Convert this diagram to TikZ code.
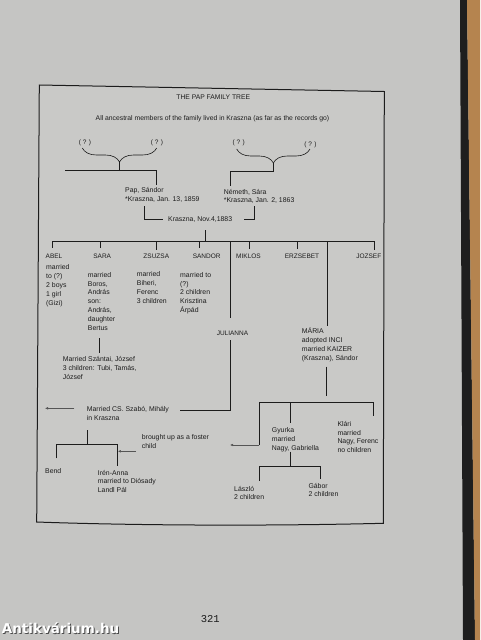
\documentclass[tikz,border=0pt]{standalone}
\usepackage{fontspec}
\setmainfont{Liberation Sans}
\newfontfamily\pagenofont{Liberation Mono}
\newfontfamily\stampfont{DejaVu Sans}
\usetikzlibrary{arrows.meta}
\usetikzlibrary{decorations.pathreplacing}
\definecolor{paper}{HTML}{C5C5C3}
\definecolor{sheet}{HTML}{C9C9C7}
\definecolor{ink}{HTML}{1C1C1C}
\definecolor{binding}{HTML}{1E1E1E}
\definecolor{cover}{HTML}{B5844F}
\begin{document}
\begin{tikzpicture}[x=1pt,y=-1pt]
        \tikzset{member/.style = {anchor=base west,inner sep=0pt,align=left,text=ink,font=\fontsize{6.9}{8.8}\selectfont}}
        \tikzset{heading/.style = {anchor=base,inner sep=0pt,text=ink,font=\fontsize{6.5}{8.8}\selectfont}}
        \tikzset{link/.style = {draw=ink,line width=1pt}}
        \tikzset{pointer/.style = {draw=ink!75,line width=0.5pt,-{Latex[length=3pt,width=2.6pt]}}}
        \tikzset{curly/.style = {draw=ink,line width=0.6pt,decorate,decoration={brace,mirror,amplitude=14pt}}}
        \useasboundingbox (0,0) rectangle (480,640);
        % page, binding and cover edge
        \fill[paper] (0,0) rectangle (480,640);
        \fill[binding] (460,0) -- (467,0) -- (475,640) -- (463,640) -- cycle;
        \fill[cover] (467,0) -- (480,0) -- (480,640) -- (475,640) -- cycle;
        \draw[link,fill=sheet] (39.3,85) -- (384.3,91.5) -- (383.3,523.3)
            .. controls (250,526.5) and (120,525) .. (36.7,522) -- cycle;
        % headings
        \node[heading,font=\fontsize{6.75}{8}\selectfont] (title) at (213.2,99.4) {THE PAP FAMILY TREE};
        \node[heading,font=\fontsize{6.8}{8}\selectfont] (motto) at (212.5,120.8) {All ancestral members of the family lived in Kraszna (as far as the records go)};
        \node[heading] (q1) at (85,144) {( ? )};
        \node[heading] (q2) at (157,144) {( ? )};
        \node[heading] (q3) at (238.8,144.5) {( ? )};
        \node[heading] (q4) at (310.5,146.2) {( ? )};
        % grandparents
        \draw[curly] (82.3,148) -- (156.7,148);
        \draw[curly] (236.7,149) -- (310,149);
        \coordinate (papup) at (119.5,162);
        \coordinate (papfork) at (119.5,170);
        \coordinate (papleft) at (65,170);
        \coordinate (papcorner) at (156.7,170);
        \coordinate (papend) at (156.7,184.5);
        \coordinate (nemup) at (273.4,163);
        \coordinate (nemfork) at (273.4,171.7);
        \coordinate (nemcorner) at (230.3,171.7);
        \coordinate (nemend) at (230.3,185.5);
        \draw[link] (papup) -- (papfork);
        \draw[link] (papleft) -- (papcorner) -- (papend);
        \draw[link] (nemup) -- (nemfork) -- (nemcorner) -- (nemend);
        % parents (base of a multi-line node = last line)
        \node[member] (pap) at (125,201.2) {Pap, Sándor\\*Kraszna, Jan. 13, 1859};
        \node[member] (nemeth) at (223.7,202.9) {Németh, Sára\\*Kraszna, Jan. 2, 1863};
        \node[member] (wed) at (168,221.7) {Kraszna, Nov.4,1883};
        \coordinate (wedl) at (144,206);
        \coordinate (wedr) at (254.3,206);
        \draw[link] (wedl) |- ([xshift=-5.3pt]wed.west);
        \draw[link] (wedr) |- ([xshift=11.7pt]wed.east);
        % children
        \coordinate (kids) at (205.3,230);
        \coordinate (bar) at (205.3,241);
        \coordinate (barl) at (52.7,241);
        \coordinate (barr) at (374.3,241);
        \draw[link] (kids) -- (bar);
        \draw[link] (barl) -- (barr);
        \foreach \who/\x/\y in {abel/52.7/248,sara/100.3/247.5,zsuzsa/156/249.5,sandor/199.3/247.5,
                                julianna/230/318.3,miklos/249/248.5,erzsebet/297.3/249,maria/327/326,jozsef/374.3/250}
            \draw[link] (\x,241) coordinate (\who top) -- (\x,\y) coordinate (\who drop);
        \node[heading] (abel) at (54,258.6) {ABEL};
        \node[heading] (sara) at (102.2,258.6) {SARA};
        \node[heading] (zsuzsa) at (156.3,258.6) {ZSUZSA};
        \node[heading] (sandor) at (206.7,258.6) {SANDOR};
        \node[heading] (miklos) at (248.5,258.6) {MIKLOS};
        \node[heading] (erzsebet) at (302,258.6) {ERZSEBET};
        \node[heading] (jozsef) at (368.8,258.6) {JOZSEF};
        \node[member] (abelinfo) at (46,305) {married\\to (?)\\2 boys\\1 girl\\(Gizi)};
        \node[member] (sarainfo) at (87.7,330) {married\\Boros,\\András\\son:\\András,\\daughter\\Bertus};
        \node[member] (zsuzsainfo) at (136.7,303) {married\\Biheri,\\Ferenc\\3 children};
        \node[member] (sandorinfo) at (180,312.5) {married to\\(?)\\2 children\\Krisztina\\Árpád};
        % grandchildren through Sara
        \coordinate (saraup) at (99.3,338.3);
        \coordinate (saradown) at (99.3,352.7);
        \draw[link] (saraup) -- (saradown);
        \node[member] (szantai) at (62.7,379) {Married Szántai, József\\3 children: Tubi, Tamás,\\József};
        % Julianna
        \node[heading] (julianna) at (232.5,335.1) {JULIANNA};
        \coordinate (julup) at (230,340);
        \coordinate (julcorner) at (230,410);
        \coordinate (julend) at (180,410);
        \draw[link] (julup) -- (julcorner) -- (julend);
        \node[member] (szabo) at (86.7,420.2) {Married CS. Szabó, Mihály\\in Kraszna};
        \coordinate (szaboarrow) at (74.3,408.3);
        \coordinate (szabotip) at (45,408.3);
        \draw[pointer] (szaboarrow) -- (szabotip);
        \coordinate (szaboup) at (87,430);
        \coordinate (szabofork) at (87,444);
        \coordinate (bendtop) at (56.7,444);
        \coordinate (bendend) at (56.7,458.3);
        \coordinate (irentop) at (117.3,444);
        \coordinate (irenend) at (117.3,465.7);
        \draw[link] (szaboup) -- (szabofork);
        \draw[link] (bendend) -- (bendtop) -- (irentop) -- (irenend);
        \node[member] (foster) at (141.7,448.5) {brought up as a foster\\child};
        \coordinate (fosterfrom) at (136,451.3);
        \coordinate (fosterto) at (117.9,451.3);
        \draw[pointer] (fosterfrom) -- (fosterto);
        \node[member] (bend) at (45,473.4) {Bend};
        \node[member] (iren) at (97.7,492.6) {Irén-Anna\\married to Diósady\\Landl Pál};
        % Maria
        \node[member] (maria) at (301.7,360.3) {MÁRIA\\adopted INCI\\married KAIZER\\(Kraszna), Sándor};
        \coordinate (mariaup) at (326.5,366.7);
        \coordinate (mariadown) at (326.5,396);
        \coordinate (mbarl) at (259.3,402.7);
        \coordinate (mbarr) at (373.7,402.7);
        \coordinate (mleft) at (259.3,445);
        \coordinate (mlefttip) at (230,445);
        \coordinate (gyurkatop) at (290.5,402.7);
        \coordinate (gyurkadrop) at (290.5,422.7);
        \coordinate (klaridrop) at (373.7,416);
        \draw[link] (mariaup) -- (mariadown);
        \draw[link] (mleft) -- (mbarl) -- (mbarr) -- (klaridrop);
        \draw[link] (gyurkatop) -- (gyurkadrop);
        \draw[pointer] (mleft) -- (mlefttip);
        \node[member] (gyurka) at (271.7,450) {Gyurka\\married\\Nagy, Gabriella};
        \node[member] (klari) at (337.3,452.7) {Klári\\married\\Nagy, Ferenc\\no children};
        \coordinate (gyup) at (290,451.7);
        \coordinate (gyfork) at (290,466);
        \coordinate (gyl) at (259.3,466);
        \coordinate (gyr) at (320,466);
        \coordinate (gylend) at (259.3,480.7);
        \coordinate (gyrend) at (320,479);
        \draw[link] (gyup) -- (gyfork);
        \draw[link] (gylend) -- (gyl) -- (gyr) -- (gyrend);
        \node[member] (laszlo) at (234,499.8) {László\\2 children};
        \node[member] (gabor) at (308.3,496.8) {Gábor\\2 children};
        % page number and stamp
        \node[anchor=base,inner sep=0pt,text=ink,font=\pagenofont\fontsize{10.5}{12}\selectfont] (pageno) at (210.3,622.5) {321};
        \node[anchor=base west,inner sep=0pt,text=black!70,font=\stampfont\bfseries\fontsize{13.5}{15}\selectfont] (stampshadow) at (2.7,634.5) {Antikvárium.hu};
        \node[anchor=base west,inner sep=0pt,text=white,font=\stampfont\bfseries\fontsize{13.5}{15}\selectfont] (stamp) at (1.7,633.5) {Antikvárium.hu};
\end{tikzpicture}
\end{document}
